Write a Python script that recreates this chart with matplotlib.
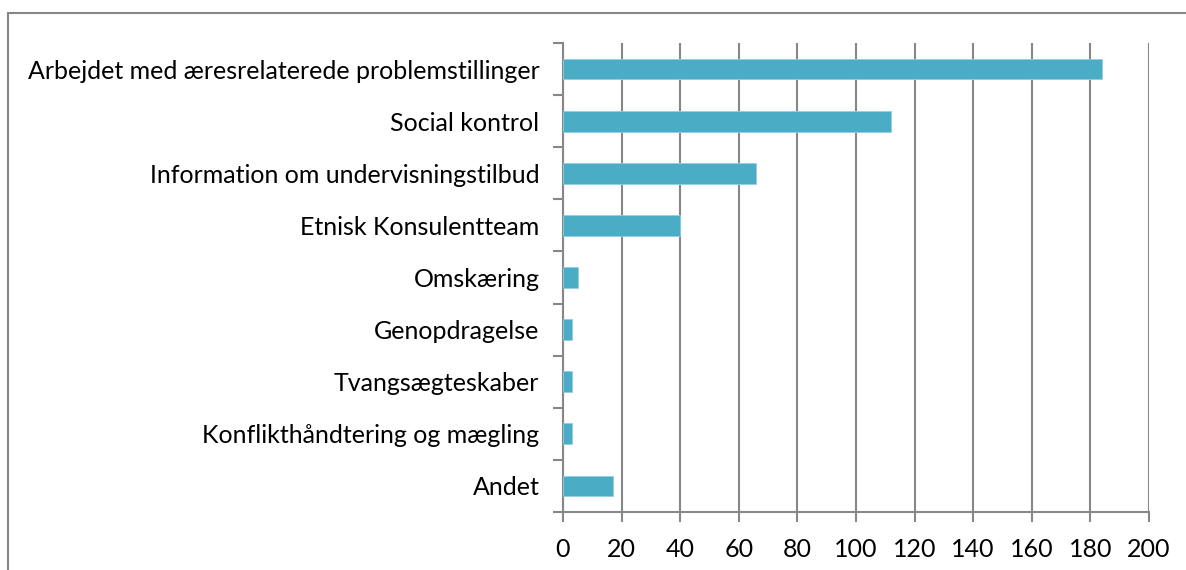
import matplotlib.pyplot as plt
from matplotlib.patches import Rectangle
import numpy as np

# Categories top to bottom and their counts
categories = ['Arbejdet med æresrelaterede problemstillinger', 'Social kontrol',
              'Information om undervisningstilbud', 'Etnisk Konsulentteam',
              'Omskæring', 'Genopdragelse', 'Tvangsægteskaber',
              'Konflikthåndtering og mægling', 'Andet']
counts = [184, 112, 66, 40, 5, 3, 3, 3, 17]
xticks = [0, 20, 40, 60, 80, 100, 120, 140, 160, 180, 200]

plt.rcParams['font.family'] = ['Lato', 'DejaVu Sans']

fig = plt.figure(figsize=(11.86, 5.70), dpi=100)
ax = fig.add_axes([563 / 1186, 1 - 512 / 570, 586 / 1186, 469 / 570])

grey = '#878787'
y = np.arange(len(categories))
ax.barh(y, counts, height=0.4, color='#4BACC6', edgecolor='#8fd0e0', linewidth=0.6, zorder=3)

ax.set_xlim(0, 200)
ax.set_ylim(len(categories) - 0.5, -0.5)
ax.set_xticks(xticks)
ax.grid(axis='x', color=grey, linewidth=1.5, zorder=0)

# labels on the bars, tick marks between categories
ax.set_yticks(y)
ax.set_yticklabels(categories)
ax.set_yticks(np.arange(len(categories) + 1) - 0.5, minor=True)
ax.tick_params(axis='y', which='major', length=0, pad=17, labelsize=18)
ax.tick_params(axis='y', which='minor', length=7, width=1.5, color=grey)
ax.tick_params(axis='x', length=7, width=1.5, color=grey, labelsize=18, pad=12)

for s in ['top', 'right']:
    ax.spines[s].set_visible(False)
for s in ['left', 'bottom']:
    ax.spines[s].set_color(grey)
    ax.spines[s].set_linewidth(1.5)

# outer chart frame
fig.patches.append(Rectangle((8 / 1186, -0.1), 1.2, 1 - 13 / 570 + 0.1,
                             transform=fig.transFigure, fill=False,
                             edgecolor=grey, linewidth=1.5))

fig.savefig('out.png', dpi=100)
